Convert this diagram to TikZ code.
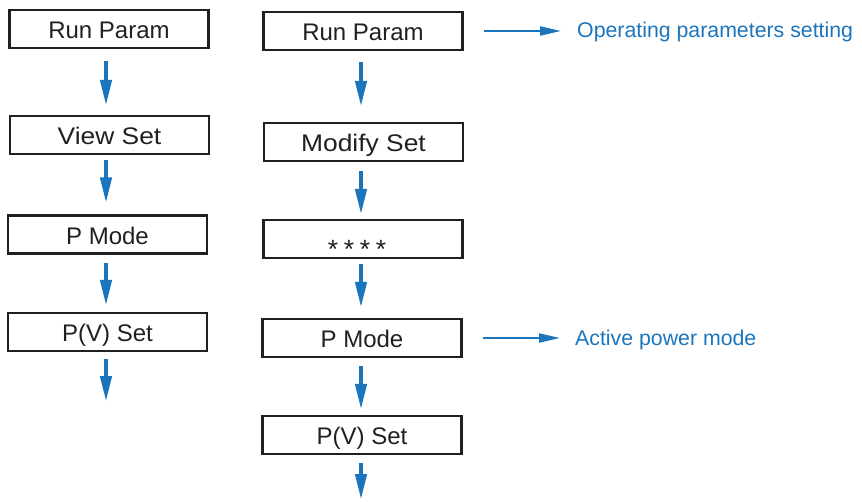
\documentclass[tikz,border=0pt]{standalone}
\usepackage{fontspec}
\usepackage{graphicx}
\setmainfont{Liberation Sans}
\usetikzlibrary{arrows.meta}
\definecolor{ablue}{RGB}{27,117,188}
\definecolor{ink}{RGB}{35,31,32}
\newcommand{\starglyph}{\makebox[16pt]{\scalebox{1.1}{*}}}
\begin{document}
\begin{tikzpicture}[x=1pt,y=-1pt,
  box/.style={draw=ink, line width=2.2pt, minimum width=199pt, minimum height=38pt,
    inner sep=0pt, font=\fontsize{24}{28}\selectfont, text=ink, text height=19pt, text depth=0pt},
  varrow/.style={draw=ablue, line width=4.3pt, -{Triangle[length=26pt,width=11pt]}},
  harrow/.style={draw=ablue, line width=2pt, -{Triangle[length=21pt,width=9pt]}},
  note/.style={text=ablue, font=\fontsize{21.3}{25}\selectfont, inner sep=0pt, anchor=base west}]
\useasboundingbox (0,0) rectangle (862,501);
% left column
\node[box] (L1) at (109,29) {Run Param};
\node[box] (L2) at (109.5,135) {\scalebox{1.1}[1]{View Set}};
\node[box] (L3) at (107.5,234.5) {P Mode};
\node[box] (L4) at (107.5,332) {P(V) Set};
% right column
\node[box] (R1) at (363,31) {Run Param};
\node[box] (R2) at (363.5,142) {\scalebox{1.1}[1]{Modify Set}};
\node[box] (R3) at (363,239) {\raisebox{-9.5pt}{\starglyph\starglyph\starglyph\starglyph}\hspace*{12pt}};
\node[box] (R4) at (362,338) {P Mode};
\node[box] (R5) at (362,435) {P(V) Set};
% notes
\node[note] (N1) at (577,37) {Operating parameters setting};
\node[note] (N2) at (575,345) {Active power mode};
% helper coordinates
\coordinate (lx) at (106,0);
\coordinate (rx) at (361,0);
\coordinate (Lend) at (106,402);
\coordinate (Rend) at (361,500);
% left arrows
\draw[varrow, shorten <=12pt, shorten >=9pt] (L1.south -| lx) -- (L2.north -| lx);
\draw[varrow, shorten <=5pt, shorten >=11pt] (L2.south -| lx) -- (L3.north -| lx);
\draw[varrow, shorten <=8pt, shorten >=6pt] (L3.south -| lx) -- (L4.north -| lx);
\draw[varrow, shorten <=7pt] (L4.south -| lx) -- (Lend);
% right arrows
\draw[varrow, shorten <=11pt, shorten >=15pt] (R1.south -| rx) -- (R2.north -| rx);
\draw[varrow, shorten <=9pt, shorten >=4pt] (R2.south -| rx) -- (R3.north -| rx);
\draw[varrow, shorten <=5pt, shorten >=10pt] (R3.south -| rx) -- (R4.north -| rx);
\draw[varrow, shorten <=8pt, shorten >=5pt] (R4.south -| rx) -- (R5.north -| rx);
\draw[varrow, shorten <=8pt] (R5.south -| rx) -- (Rend);
% horizontal arrows
\draw[harrow, shorten <=20pt, shorten >=16pt] (R1.east) -- (R1.east -| N1.west);
\draw[harrow, shorten <=20pt, shorten >=15pt] (R4.east) -- (R4.east -| N2.west);
\end{tikzpicture}
\end{document}
